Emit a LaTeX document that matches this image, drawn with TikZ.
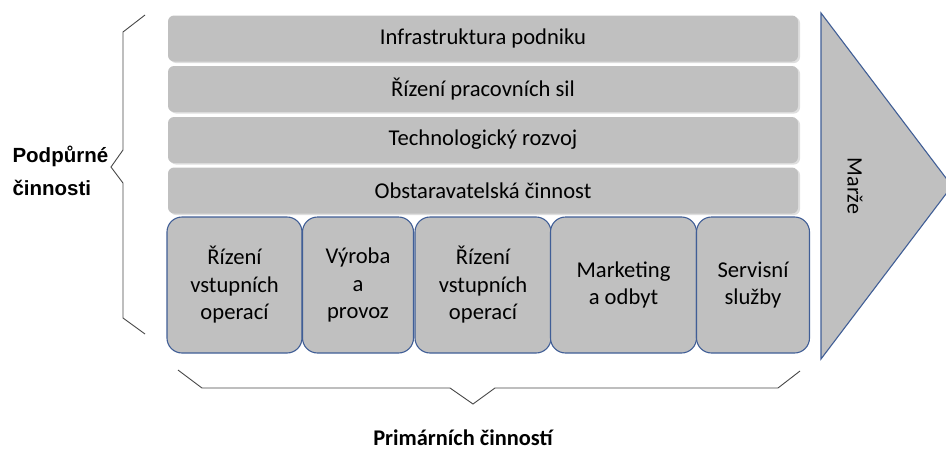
\documentclass[tikz,border=0pt]{standalone}
\usepackage{fontspec}
\setmainfont{Carlito}
\newfontfamily\arialbold[BoldFont={Liberation Sans Bold}]{Liberation Sans}
\definecolor{boxgray}{RGB}{192,192,192}
\definecolor{shadowgray}{RGB}{222,222,222}
\definecolor{edgeblue}{RGB}{64,94,150}
\definecolor{bracegray}{RGB}{70,70,70}
\tikzset{
  x=1pt, y=-1pt,
  supportbar/.style={fill=boxgray, draw=none, rounded corners=6pt,
    minimum width=630pt, minimum height=46pt, inner sep=0pt,
    font=\fontsize{22.6}{26}\selectfont},
  barshadow/.style={fill=shadowgray, draw=none, rounded corners=6pt},
  primarybox/.style={fill=boxgray, draw=edgeblue, line width=1.1pt,
    rounded corners=15pt, minimum height=136pt, inner sep=0pt,
    align=center, font=\fontsize{22.6}{27.5}\selectfont},
  bracket/.style={draw=bracegray, line width=0.9pt},
}
\begin{document}
\begin{tikzpicture}
\useasboundingbox (0,0) rectangle (946,450);

% margin arrow
\coordinate (mtop) at (821,13);
\coordinate (mtip) at (952,186);
\coordinate (mbot) at (821,359);
\draw[fill=boxgray, draw=edgeblue, line width=1.1pt, line join=miter]
  (mtop) -- (mtip) -- (mbot) -- cycle;
\node[rotate=-90, font=\fontsize{22}{26}\selectfont] (marze) at (855,186) {Marže};

% support activities
\foreach \yy in {38.5, 89, 140, 190.5} {
  \fill[barshadow] (170,\yy-21.5) rectangle (800,\yy+24.5);
}
\node[supportbar] (infra) at (483,38.5) {Infrastruktura podniku};
\node[supportbar] (hr)    at (483,89)   {Řízení pracovních sil};
\node[supportbar] (tech)  at (483,140)  {Technologický rozvoj};
\node[supportbar] (proc)  at (483,190.5){Obstaravatelská činnost};

% primary activities
\node[primarybox, minimum width=135pt] (inlog) at (234.5,285) {Řízení\\vstupních\\operací};
\node[primarybox, minimum width=111pt] (ops)   at (358,285)   {Výroba\\a\\provoz};
\node[primarybox, minimum width=136pt] (outlog) at (483,285)  {Řízení\\vstupních\\operací};
\node[primarybox, minimum width=146pt] (mkt)   at (623.5,285) {Marketing\\a odbyt};
\node[primarybox, minimum width=113pt] (serv)  at (753,285)   {Servisní\\služby};

% left brace for support activities
\coordinate (lb1) at (145,15);
\coordinate (lb2) at (123,32);
\coordinate (lb3) at (123,150);
\coordinate (lbt) at (111,167);
\coordinate (lb4) at (123,183);
\coordinate (lb5) at (123,318);
\coordinate (lb6) at (145,334);
\draw[bracket] (lb1) -- (lb2) -- (lb3) -- (lbt) -- (lb4) -- (lb5) -- (lb6);
\node[font=\arialbold\bfseries\fontsize{20.5}{33}\selectfont, align=left, anchor=west]
  (support) at (9,171) {Podpůrné\\činnosti};

% bottom brace for primary activities
\coordinate (bb1) at (178,370);
\coordinate (bb2) at (202,388);
\coordinate (bb3) at (450,388);
\coordinate (bbt) at (473,404);
\coordinate (bb4) at (495,388);
\coordinate (bb5) at (778,388);
\coordinate (bb6) at (800,371);
\draw[bracket] (bb1) -- (bb2) -- (bb3) -- (bbt) -- (bb4) -- (bb5) -- (bb6);
\node[font=\bfseries\fontsize{22.4}{26}\selectfont, anchor=base, inner ysep=0pt]
  (primary) at (463,445) {Primárních činností};
\end{tikzpicture}
\end{document}
